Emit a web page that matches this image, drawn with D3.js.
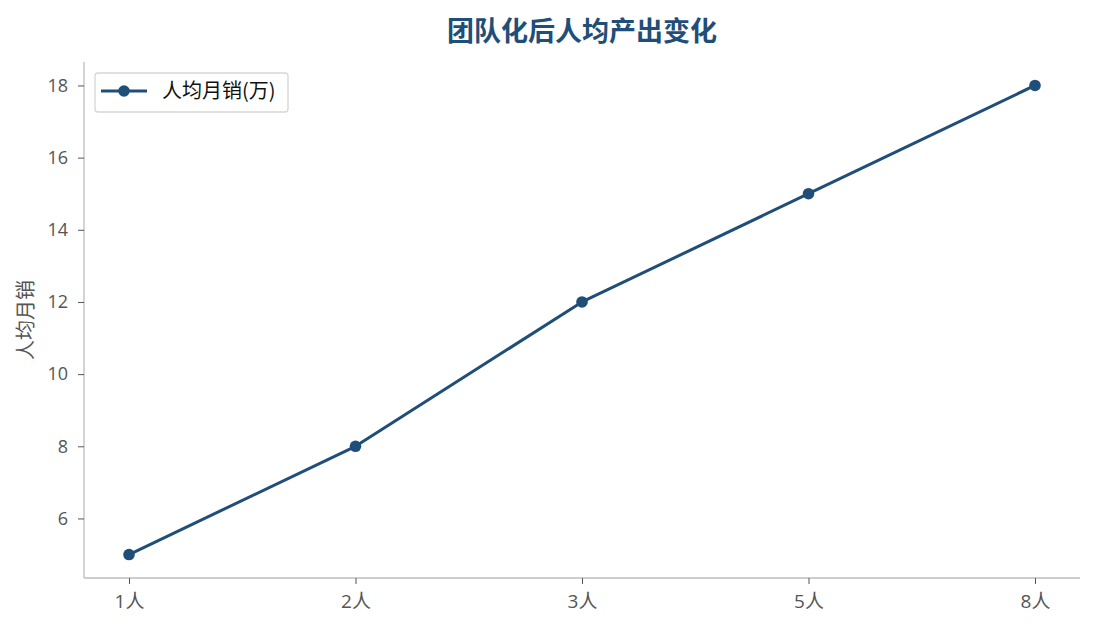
<!DOCTYPE html>
<html><head><meta charset="utf-8">
<script src="https://cdn.jsdelivr.net/npm/d3@7"></script>
<style>body{margin:0;background:#fff;}svg{display:block;font-family:"Noto Sans CJK SC","Noto Sans",sans-serif;}</style>
</head><body><svg id="c" width="1095" height="630"></svg>
<script>
const categories = ["1人","2人","3人","5人","8人"];
const values = [5, 8, 12, 15, 18];
const yTicks = [6, 8, 10, 12, 14, 16, 18];
const title = "团队化后人均产出变化";
const seriesName = "人均月销(万)";
const yLabel = "人均月销";

const color = "#1f4e79";
const tickFont = "'Open Sans','Noto Sans CJK SC',sans-serif";
const svg = d3.select("#c");
const L = 84, R = 1080, T = 62, B = 578;
const x = d3.scalePoint().domain(categories).range([129, 1035]);
const y = d3.scaleLinear().domain([4.35, 18.65]).range([B, T]);

// spines
svg.append("line").attr("x1",L).attr("x2",L).attr("y1",T).attr("y2",B).attr("stroke","#bdbdbd").attr("stroke-width",1.3);
svg.append("line").attr("x1",L).attr("x2",R).attr("y1",B).attr("y2",B).attr("stroke","#bdbdbd").attr("stroke-width",1.3);

// y axis
const ya = svg.append("g").attr("transform",`translate(${L},0)`)
  .call(d3.axisLeft(y).tickValues(yTicks).tickSize(6).tickPadding(10).tickFormat(d3.format("d")));
ya.select(".domain").remove();
ya.selectAll("line").attr("stroke","#555");
ya.selectAll("text").attr("fill","#555").style("font-size","18px").style("font-family",tickFont);

// x axis
const xa = svg.append("g").attr("transform",`translate(0,${B})`)
  .call(d3.axisBottom(x).tickSize(6).tickPadding(11));
xa.select(".domain").remove();
xa.selectAll("line").attr("stroke","#555");
xa.selectAll("text").attr("fill","#555").style("font-size","19px").style("font-family",tickFont);

// y label
svg.append("text").attr("transform",`translate(26,${(T+B)/2}) rotate(-90)`).attr("text-anchor","middle")
  .attr("dy","0.35em").attr("fill","#555").style("font-size","20px").text(yLabel);

// title
svg.append("text").attr("x",582).attr("y",41).attr("text-anchor","middle").attr("fill",color)
  .style("font-size","27px").style("font-weight","bold").text(title);

// line
const data = categories.map((c,i)=>({c, v: values[i]}));
svg.append("path").datum(data).attr("fill","none").attr("stroke",color).attr("stroke-width",3)
  .attr("stroke-linejoin","round")
  .attr("d", d3.line().x(d=>x(d.c)).y(d=>y(d.v)));
svg.selectAll("circle.pt").data(data).join("circle").attr("class","pt")
  .attr("cx",d=>x(d.c)).attr("cy",d=>y(d.v)).attr("r",5.8).attr("fill",color);

// legend
const lg = svg.append("g");
lg.append("rect").attr("x",95).attr("y",73).attr("width",193).attr("height",39).attr("rx",3)
  .attr("fill","#fff").attr("stroke","#d6d6d6").attr("stroke-width",1.3);
lg.append("line").attr("x1",101).attr("x2",147).attr("y1",91).attr("y2",91).attr("stroke",color).attr("stroke-width",3);
lg.append("circle").attr("cx",124).attr("cy",91).attr("r",5.8).attr("fill",color);
lg.append("text").attr("x",162).attr("y",91).attr("dy","0.36em").attr("fill","#111").style("font-size","20px").text(seriesName);
</script></body></html>
